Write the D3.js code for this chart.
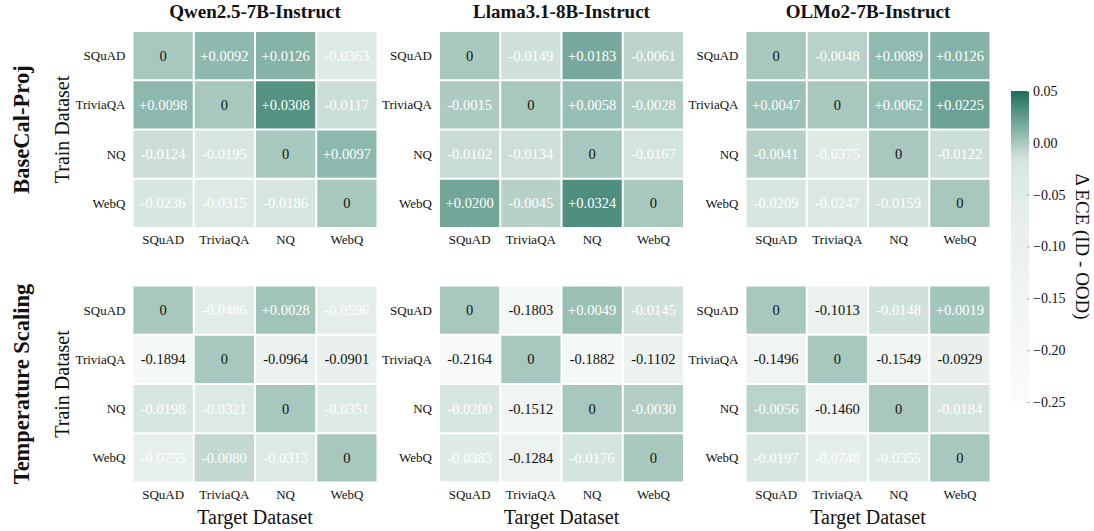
<!DOCTYPE html>
<html>
<head>
<meta charset="utf-8">
<script src="https://cdn.jsdelivr.net/npm/d3@7"></script>
<style>
  body { margin: 0; background: #fff; }
  svg { font-family: "Liberation Serif", "DejaVu Serif", serif; }
</style>
</head>
<body>
<div id="chart"></div>
<script>
// datasets (rows = train, cols = target)
let datasets = ["SQuAD", "TriviaQA", "NQ", "WebQ"];
let models = ["Qwen2.5-7B-Instruct", "Llama3.1-8B-Instruct", "OLMo2-7B-Instruct"];
let methods = ["BaseCal-Proj", "Temperature Scaling"];
let cbarTicks = [0.05, 0.00, -0.05, -0.10, -0.15, -0.20, -0.25];

let basecalQwen = [
  [0, 0.0092, 0.0126, -0.0363],
  [0.0098, 0, 0.0308, -0.0117],
  [-0.0124, -0.0195, 0, 0.0097],
  [-0.0236, -0.0315, -0.0186, 0]
];
let basecalLlama = [
  [0, -0.0149, 0.0183, -0.0061],
  [-0.0015, 0, 0.0058, -0.0028],
  [-0.0102, -0.0134, 0, -0.0167],
  [0.0200, -0.0045, 0.0324, 0]
];
let basecalOlmo = [
  [0, -0.0048, 0.0089, 0.0126],
  [0.0047, 0, 0.0062, 0.0225],
  [-0.0041, -0.0375, 0, -0.0122],
  [-0.0209, -0.0247, -0.0159, 0]
];
let tempQwen = [
  [0, -0.0486, 0.0028, -0.0596],
  [-0.1894, 0, -0.0964, -0.0901],
  [-0.0198, -0.0321, 0, -0.0351],
  [-0.0755, -0.0080, -0.0313, 0]
];
let tempLlama = [
  [0, -0.1803, 0.0049, -0.0145],
  [-0.2164, 0, -0.1882, -0.1102],
  [-0.0200, -0.1512, 0, -0.0030],
  [-0.0383, -0.1284, -0.0176, 0]
];
let tempOlmo = [
  [0, -0.1013, -0.0148, 0.0019],
  [-0.1496, 0, -0.1549, -0.0929],
  [-0.0056, -0.1460, 0, -0.0184],
  [-0.0197, -0.0748, -0.0355, 0]
];

let grids = [
  [basecalQwen, basecalLlama, basecalOlmo],
  [tempQwen, tempLlama, tempOlmo]
];

let W = 1094, H = 531;
let svg = d3.select("#chart").append("svg").attr("width", W).attr("height", H);

// colour ramp: fast change near the top, slow fade to white below
let color = d3.scaleLinear()
  .domain([-0.25, -0.15, -0.09, -0.04, -0.02, -0.01, 0, 0.01, 0.02, 0.03, 0.05])
  .range(["#fbfcfc", "#f0f5f3", "#e9f0ed", "#e0ebe6", "#d8e6e1", "#c9dcd6",
          "#a8c8bf", "#8bb8ad", "#72a699", "#569484", "#1c6b5a"])
  .clamp(true);

let fmt = function(v) {
  if (v === 0) return "0";
  return (v > 0 ? "+" : "") + v.toFixed(4);
};

let panelX = [132.5, 439, 745.5];
let panelY = [31, 285.5];
let pw = 245, ph = 197;

for (let r = 0; r < 2; r++) {
  for (let c = 0; c < 3; c++) {
    let x = d3.scaleBand().domain(datasets).range([0, pw]);
    let y = d3.scaleBand().domain(datasets).range([0, ph]);
    let g = svg.append("g").attr("transform", "translate(" + panelX[c] + "," + panelY[r] + ")");

    let cells = [];
    grids[r][c].forEach(function(row, i) {
      row.forEach(function(v, j) { cells.push({ row: datasets[i], col: datasets[j], v: v }); });
    });

    g.selectAll("rect.cell")
      .data(cells)
      .enter().append("rect")
        .attr("class", "cell")
        .attr("x", function(d) { return x(d.col) + 1; })
        .attr("y", function(d) { return y(d.row) + 1; })
        .attr("width", x.bandwidth() - 2)
        .attr("height", y.bandwidth() - 2)
        .attr("fill", function(d) { return color(d.v); });

    g.selectAll("text.val")
      .data(cells)
      .enter().append("text")
        .attr("class", "val")
        .attr("x", function(d) { return x(d.col) + x.bandwidth() / 2; })
        .attr("y", function(d) { return y(d.row) + y.bandwidth() / 2; })
        .attr("dy", "0.35em")
        .attr("text-anchor", "middle")
        .attr("font-size", 14.5)
        .attr("fill", function(d) { return (d.v === 0 || d.v < -0.085) ? "#111" : "#fff"; })
        .text(function(d) { return fmt(d.v); });

    // y tick labels
    g.selectAll("text.ylab")
      .data(datasets)
      .enter().append("text")
        .attr("x", -7)
        .attr("y", function(d) { return y(d) + y.bandwidth() / 2; })
        .attr("dy", "0.35em")
        .attr("text-anchor", "end")
        .attr("font-size", 13)
        .attr("fill", "#111")
        .text(function(d) { return d; });

    // x tick labels
    g.selectAll("text.xlab")
      .data(datasets)
      .enter().append("text")
        .attr("x", function(d) { return x(d) + x.bandwidth() / 2; })
        .attr("y", ph + 16)
        .attr("text-anchor", "middle")
        .attr("font-size", 13)
        .attr("fill", "#111")
        .text(function(d) { return d; });

    if (r === 0) {
      g.append("text")
        .attr("x", pw / 2).attr("y", -13)
        .attr("text-anchor", "middle")
        .attr("font-size", 19).attr("font-weight", "bold")
        .attr("fill", "#111")
        .text(models[c]);
    }
    if (r === 1) {
      g.append("text")
        .attr("x", pw / 2).attr("y", ph + 41)
        .attr("text-anchor", "middle")
        .attr("font-size", 20)
        .attr("fill", "#111")
        .text("Target Dataset");
    }
    if (c === 0) {
      g.append("text")
        .attr("transform", "translate(-64," + (ph / 2) + ") rotate(-90)")
        .attr("text-anchor", "middle")
        .attr("font-size", 20)
        .attr("fill", "#111")
        .text("Train Dataset");
      g.append("text")
        .attr("transform", "translate(-104," + (ph / 2) + ") rotate(-90)")
        .attr("text-anchor", "middle")
        .attr("font-size", 22.5).attr("font-weight", "bold")
        .attr("fill", "#111")
        .text(methods[r]);
    }
  }
}

// colour bar
let cbX = 1011, cbW = 18, cbTop = 91, cbBot = 402;
let cbScale = d3.scaleLinear().domain([0.05, -0.25]).range([cbTop, cbBot]);
let grad = svg.append("defs").append("linearGradient")
  .attr("id", "cbgrad").attr("x1", 0).attr("y1", 1).attr("x2", 0).attr("y2", 0);
d3.range(0, 1.0001, 0.02).forEach(function(t) {
  grad.append("stop")
    .attr("offset", t)
    .attr("stop-color", color(-0.25 + t * 0.30));
});
svg.append("rect")
  .attr("x", cbX).attr("y", cbTop)
  .attr("width", cbW).attr("height", cbBot - cbTop)
  .attr("fill", "url(#cbgrad)");

let cbAxis = d3.axisRight(cbScale)
  .tickValues(cbarTicks)
  .tickSize(3)
  .tickFormat(function(d) { return d3.format(".2f")(d).replace("-", "\u2212"); });
let cbG = svg.append("g").attr("transform", "translate(" + (cbX + cbW) + ",0)").call(cbAxis);
cbG.select(".domain").remove();
cbG.selectAll(".tick line").attr("stroke", "#bbb").attr("x1", -2).attr("x2", 1);
cbG.selectAll(".tick text")
  .attr("x", 4)
  .attr("font-family", "Liberation Serif, serif")
  .attr("font-size", 14)
  .attr("fill", "#111");

svg.append("text")
  .attr("transform", "translate(1076," + ((cbTop + cbBot) / 2) + ") rotate(90)")
  .attr("text-anchor", "middle")
  .attr("font-size", 19)
  .attr("fill", "#111")
  .text("\u0394 ECE (ID - OOD)");
</script>
</body>
</html>
